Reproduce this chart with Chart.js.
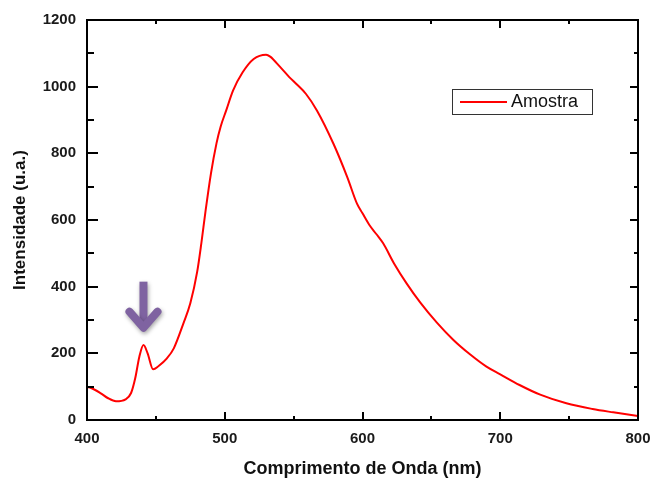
<!DOCTYPE html>
<html>
<head>
<meta charset="utf-8">
<script src="https://cdn.jsdelivr.net/npm/chart.js@4.4.0/dist/chart.umd.min.js"></script>
<style>
  html, body { margin: 0; padding: 0; background: #fff; }
  #wrap { width: 650px; height: 480px; }
</style>
</head>
<body>
<div id="wrap"><canvas id="chart" width="650" height="480"></canvas></div>
<script>
// dados
const wavelength = [400, 403, 410, 415, 421, 428, 432, 435, 438, 441, 444, 448, 452, 458, 463, 470, 475, 480, 483, 486, 490, 494, 497, 501, 506, 513, 521, 530, 533, 540, 547, 552, 559, 567, 579, 589, 596, 600, 605, 610, 615, 623, 632, 642, 654, 666, 678, 690, 700, 714, 729, 748, 767, 782, 800];
const intensity = [99, 96, 80, 66, 56, 62, 81, 125, 190, 225, 200, 152, 162, 185, 215, 290, 350, 445, 530, 625, 740, 830, 880, 928, 988, 1043, 1083, 1096, 1090, 1060, 1028, 1008, 978, 928, 828, 728, 649, 620, 585, 558, 530, 469, 410, 352, 292, 240, 197, 160, 137, 105, 76, 50, 33, 23, 12];
const xTicks = [400, 500, 600, 700, 800];
const yTicks = [0, 200, 400, 600, 800, 1000, 1200];
const seriesName = 'Amostra';
const arrowAt = 441;

const points = wavelength.map((x, i) => ({ x: x, y: intensity[i] }));

// moldura com ticks para dentro nos quatro lados
const framePlugin = {
    id: 'frame',
    afterDraw(chart) {
        const ctx = chart.ctx;
        const a = chart.chartArea;
        const xs = chart.scales.x, ys = chart.scales.y;
        ctx.save();
        ctx.strokeStyle = '#000';
        ctx.lineWidth = 2;
        ctx.strokeRect(a.left, a.top, a.right - a.left, a.bottom - a.top);
        ctx.beginPath();
        for (let i = 0; i < xTicks.length; i++) {
            const px = Math.round(xs.getPixelForValue(xTicks[i]));
            ctx.moveTo(px, a.bottom); ctx.lineTo(px, a.bottom - 8);
            ctx.moveTo(px, a.top); ctx.lineTo(px, a.top + 8);
            if (i < xTicks.length - 1) {
                const pm = Math.round(xs.getPixelForValue((xTicks[i] + xTicks[i + 1]) / 2));
                ctx.moveTo(pm, a.bottom); ctx.lineTo(pm, a.bottom - 4);
                ctx.moveTo(pm, a.top); ctx.lineTo(pm, a.top + 4);
            }
        }
        for (let i = 0; i < yTicks.length; i++) {
            const py = Math.round(ys.getPixelForValue(yTicks[i]));
            ctx.moveTo(a.left, py); ctx.lineTo(a.left + 11, py);
            ctx.moveTo(a.right, py); ctx.lineTo(a.right - 8, py);
            if (i < yTicks.length - 1) {
                const pm = Math.round(ys.getPixelForValue((yTicks[i] + yTicks[i + 1]) / 2));
                ctx.moveTo(a.left, pm); ctx.lineTo(a.left + 7, pm);
                ctx.moveTo(a.right, pm); ctx.lineTo(a.right - 4, pm);
            }
        }
        ctx.stroke();

        // legenda dentro do gráfico
        const lx = 452, ly = 89, lw = 140, lh = 25;
        ctx.fillStyle = '#fff';
        ctx.fillRect(lx, ly, lw, lh);
        ctx.strokeStyle = '#333';
        ctx.lineWidth = 1;
        ctx.strokeRect(lx + 0.5, ly + 0.5, lw, lh);
        ctx.strokeStyle = chart.data.datasets[0].borderColor;
        ctx.lineWidth = 2;
        ctx.beginPath();
        ctx.moveTo(460, ly + 13); ctx.lineTo(507, ly + 13);
        ctx.stroke();
        ctx.fillStyle = '#111';
        ctx.font = '18px "Liberation Sans", Arial, sans-serif';
        ctx.textBaseline = 'middle';
        ctx.fillText(chart.data.datasets[0].label, 511, ly + 13);

        // seta roxa sobre o pico em 441 nm
        const ax = xs.getPixelForValue(arrowAt);
        const tipY = ys.getPixelForValue(265);
        ctx.shadowColor = 'rgba(0,0,0,0.35)';
        ctx.shadowBlur = 4;
        ctx.shadowOffsetX = 1;
        ctx.shadowOffsetY = 2;
        ctx.strokeStyle = '#7f63a1';
        ctx.lineJoin = 'round';
        ctx.lineWidth = 8;
        ctx.lineCap = 'butt';
        ctx.beginPath();
        ctx.moveTo(ax, tipY - 50); ctx.lineTo(ax, tipY - 8);
        ctx.stroke();
        ctx.lineCap = 'round';
        ctx.beginPath();
        ctx.moveTo(ax - 14, tipY - 20); ctx.lineTo(ax, tipY - 4); ctx.lineTo(ax + 14, tipY - 20);
        ctx.stroke();
        ctx.restore();
    }
};

new Chart(document.getElementById('chart'), {
    type: 'line',
    data: {
        datasets: [{
            label: seriesName,
            data: points,
            borderColor: '#ff0000',
            borderWidth: 2,
            pointRadius: 0,
            fill: false,
            cubicInterpolationMode: 'monotone'
        }]
    },
    options: {
        responsive: false,
        animation: false,
        layout: { padding: { top: 20, right: 12, left: 0, bottom: 0 } },
        plugins: {
            legend: { display: false },
            tooltip: { enabled: false }
        },
        scales: {
            x: {
                type: 'linear',
                min: 400,
                max: 800,
                afterBuildTicks: (s) => { s.ticks = xTicks.map(v => ({ value: v })); },
                afterFit: (s) => { s.height = 60; s.paddingLeft = 0; s.paddingRight = 0; },
                grid: { display: false, drawTicks: false },
                border: { display: false },
                ticks: {
                    padding: 10,
                    color: '#1a1a1a',
                    callback: (v) => String(v),
                    font: { family: '"Liberation Sans", Arial, sans-serif', size: 15, weight: 'bold' }
                },
                title: {
                    display: true,
                    text: 'Comprimento de Onda (nm)',
                    color: '#111',
                    padding: { top: 0, bottom: 0 },
                    font: { family: '"Liberation Sans", Arial, sans-serif', size: 18, weight: 'bold' }
                }
            },
            y: {
                min: 0,
                max: 1200,
                afterBuildTicks: (s) => { s.ticks = yTicks.map(v => ({ value: v })); },
                afterFit: (s) => { s.width = 87; s.paddingTop = 0; s.paddingBottom = 0; },
                grid: { display: false, drawTicks: false },
                border: { display: false },
                ticks: {
                    padding: 11,
                    color: '#1a1a1a',
                    callback: (v) => String(v),
                    font: { family: '"Liberation Sans", Arial, sans-serif', size: 15, weight: 'bold' }
                },
                title: {
                    display: true,
                    text: 'Intensidade (u.a.)',
                    color: '#111',
                    padding: { top: 10, bottom: 0 },
                    font: { family: '"Liberation Sans", Arial, sans-serif', size: 17, weight: 'bold' }
                }
            }
        }
    },
    plugins: [framePlugin]
});
</script>
</body>
</html>
